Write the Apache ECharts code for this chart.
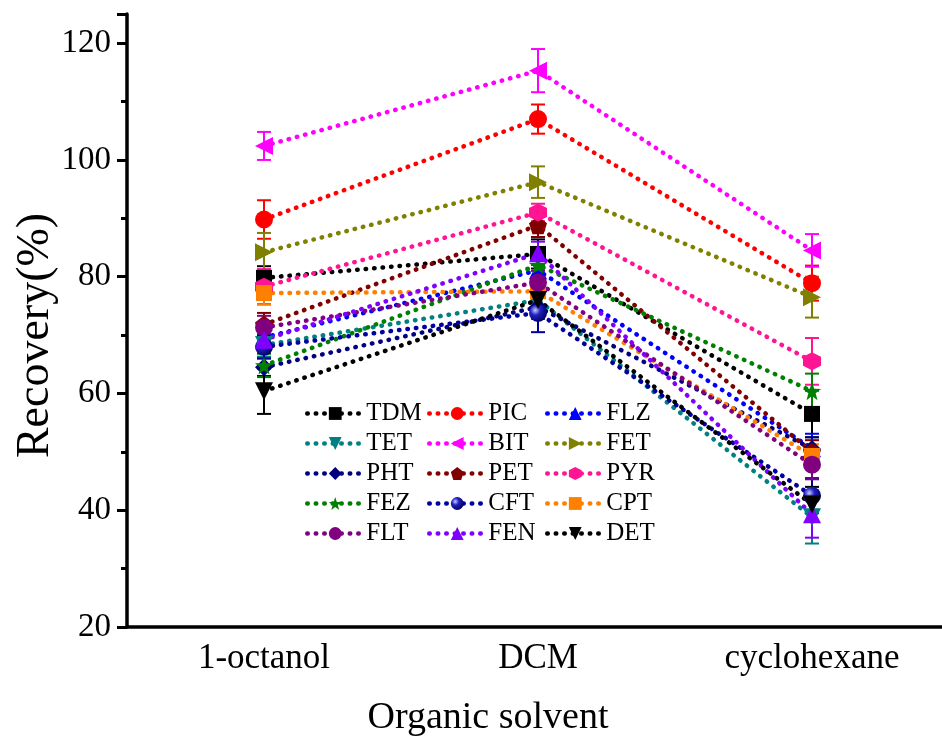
<!DOCTYPE html>
<html>
<head>
<meta charset="utf-8">
<script src="https://cdn.jsdelivr.net/npm/echarts@6/dist/echarts.min.js"></script>
<style>
  html, body { margin: 0; padding: 0; background: #fff; }
  #chart { width: 942px; height: 738px; }
</style>
</head>
<body>
<div id="chart"></div>
<script>
var solvents = ['1-octanol', 'DCM', 'cyclohexane'];
var yTicks = [20, 40, 60, 80, 100, 120];

// recovery (%) per compound, and its error
var TDM = [79.8, 83.9, 56.5], TDM_err = [2.0, 2.5, 4.0];
var PIC = [89.8, 107.0, 78.9], PIC_err = [3.3, 2.5, 3.0];
var FLZ = [69.6, 81.1, 50.6], FLZ_err = [2.0, 2.0, 2.5];
var TET = [68.3, 76.0, 38.8], TET_err = [2.0, 2.0, 4.5];
var BIT = [102.4, 115.3, 84.5], BIT_err = [2.4, 3.7, 2.8];
var FET = [84.2, 96.2, 76.5], FET_err = [3.3, 2.7, 3.5];
var PHT = [64.5, 74.8, 50.5], PHT_err = [1.5, 2.0, 2.0];
var PET = [71.8, 88.8, 50.0], PET_err = [2.0, 2.0, 2.0];
var PYR = [78.3, 91.0, 65.5], PYR_err = [3.0, 1.5, 4.0];
var FEZ = [64.8, 82.0, 60.4], FEZ_err = [2.0, 2.0, 3.0];
var CFT = [68.0, 73.8, 42.5], CFT_err = [2.0, 3.3, 3.0];
var CPT = [77.2, 77.5, 49.3], CPT_err = [2.0, 2.5, 2.0];
var FLT = [71.3, 79.0, 47.8], FLT_err = [2.0, 2.0, 2.5];
var FEN = [69.2, 84.0, 39.3], FEN_err = [2.0, 2.0, 4.0];
var DET = [60.4, 76.0, 41.0], DET_err = [3.9, 2.0, 3.0];

var FONT = 'Liberation Serif';

var shapes = {
    square: 'rect',
    circle: 'circle',
    up: 'path://M0,-10 L10,8 L-10,8 Z',
    down: 'path://M0,10 L-10,-8 L10,-8 Z',
    left: 'path://M-10,0 L8,-10 L8,10 Z',
    right: 'path://M10,0 L-8,-10 L-8,10 Z',
    diamond: 'diamond',
    pentagon: 'path://M0,-10 L9.51,-3.09 L5.88,8.09 L-5.88,8.09 L-9.51,-3.09 Z',
    hexagon: 'path://M0,-10 L8.66,-5 L8.66,5 L0,10 L-8.66,5 L-8.66,-5 Z',
    star: 'path://M0,-10 L2.35,-3.24 L9.51,-3.09 L3.8,1.24 L5.88,8.09 L0,4 L-5.88,8.09 L-3.8,1.24 L-9.51,-3.09 L-2.35,-3.24 Z'
};

var compounds = [
    // name, values, errors, colour, shape
    ['TDM', TDM, TDM_err, '#000000', 'square'],
    ['PIC', PIC, PIC_err, '#ff0000', 'circle'],
    ['FLZ', FLZ, FLZ_err, '#0000ff', 'up'],
    ['TET', TET, TET_err, '#008080', 'down'],
    ['BIT', BIT, BIT_err, '#ff00ff', 'left'],
    ['FET', FET, FET_err, '#808000', 'right'],
    ['PHT', PHT, PHT_err, '#000080', 'diamond'],
    ['PET', PET, PET_err, '#800000', 'pentagon'],
    ['PYR', PYR, PYR_err, '#ff1493', 'hexagon'],
    ['FEZ', FEZ, FEZ_err, '#008000', 'star'],
    ['CFT', CFT, CFT_err, '#0000a0', 'circle'],
    ['CPT', CPT, CPT_err, '#ff8000', 'square'],
    ['FLT', FLT, FLT_err, '#800080', 'circle'],
    ['FEN', FEN, FEN_err, '#8000ff', 'up'],
    ['DET', DET, DET_err, '#000000', 'down']
];

var series = [];
compounds.forEach(function(c) {
    var fill = c[3];
    if (c[0] === 'CFT') {
        fill = new echarts.graphic.RadialGradient(0.35, 0.35, 0.7, [
            { offset: 0, color: '#c8c8ff' },
            { offset: 0.4, color: '#2020c0' },
            { offset: 1, color: '#000060' }
        ]);
    }
    series.push({
        name: c[0],
        type: 'line',
        data: c[1],
        symbol: shapes[c[4]],
        symbolSize: c[4] === 'square' ? 16 : 18,
        z: 3,
        lineStyle: { color: c[3], width: 4.5, type: [0.5, 8], cap: 'round' },
        itemStyle: { color: fill, borderWidth: 0 }
    });
});
// error bars
compounds.forEach(function(c) {
    series.push({
        name: c[0] + ' err',
        type: 'custom',
        z: 2,
        data: c[1].map(function(v, i) { return [i, v, c[2][i]]; }),
        renderItem: function(params, api) {
            var top = api.coord([api.value(0), api.value(1) + api.value(2)]);
            var bot = api.coord([api.value(0), api.value(1) - api.value(2)]);
            var hw = 7;
            var st = { stroke: c[3], lineWidth: 2, fill: null };
            return {
                type: 'group',
                children: [
                    { type: 'line', shape: { x1: top[0], y1: top[1], x2: bot[0], y2: bot[1] }, style: st },
                    { type: 'line', shape: { x1: top[0] - hw, y1: top[1], x2: top[0] + hw, y2: top[1] }, style: st },
                    { type: 'line', shape: { x1: bot[0] - hw, y1: bot[1], x2: bot[0] + hw, y2: bot[1] }, style: st }
                ]
            };
        }
    });
});

function legendCol(names, left) {
    return {
        orient: 'vertical',
        left: left,
        top: 401,
        itemWidth: 56,
        itemHeight: 16,
        itemGap: 5,
        padding: 0,
        data: names,
        lineStyle: { width: 4.5, type: [0.5, 8], cap: 'round' },
        textStyle: { fontFamily: FONT, fontSize: 25, color: '#000', padding: [0, 0, 0, -2] }
    };
}

var chart = echarts.init(document.getElementById('chart'));
chart.setOption({
    backgroundColor: '#fff',
    animation: false,
    grid: { left: 127, top: 14, width: 822, bottom: 111, outerBoundsMode: 'none', containLabel: false },
    legend: [
        legendCol(['TDM', 'TET', 'PHT', 'FEZ', 'FLT'], 305),
        legendCol(['PIC', 'BIT', 'PET', 'CFT', 'FEN'], 427),
        legendCol(['FLZ', 'FET', 'PYR', 'CPT', 'DET'], 545)
    ],
    xAxis: [{
        type: 'category',
        data: solvents,
        boundaryGap: true,
        name: 'Organic solvent',
        nameLocation: 'middle',
        nameGap: 72,
        nameMoveOverlap: false,
        nameTextStyle: { fontFamily: FONT, fontSize: 38, color: '#000', padding: [0, 100, 0, 0] },
        axisLine: { lineStyle: { color: '#000', width: 3.5 } },
        axisTick: { alignWithLabel: true, length: 12, lineStyle: { width: 3 } },
        axisLabel: { fontFamily: FONT, fontSize: 35, color: '#000', margin: 14 },
        splitLine: { show: false }
    }, {
        type: 'category',
        data: solvents,
        boundaryGap: true,
        position: 'bottom',
        axisLine: { show: false },
        axisTick: { alignWithLabel: false, length: 6, lineStyle: { width: 3, color: '#000' } },
        axisLabel: { show: false },
        splitLine: { show: false }
    }],
    yAxis: {
        type: 'value',
        min: 20,
        max: 125,
        interval: 20,
        name: 'Recovery(%)',
        nameLocation: 'middle',
        nameGap: 68,
        nameMoveOverlap: false,
        nameTextStyle: { fontFamily: FONT, fontSize: 46, color: '#000', padding: [0, 30, 0, 0] },
        axisLine: { show: true, lineStyle: { color: '#000', width: 3.5 } },
        axisTick: { show: true, length: 10, lineStyle: { width: 3 } },
        minorTick: { show: true, splitNumber: 2, length: 6, lineStyle: { width: 3, color: '#000' } },
        axisLabel: { fontFamily: FONT, fontSize: 33, color: '#000', margin: 16,
            formatter: function(v) { return yTicks.indexOf(v) >= 0 ? v : ''; } },
        splitLine: { show: false }
    },
    series: series
});
</script>
</body>
</html>
